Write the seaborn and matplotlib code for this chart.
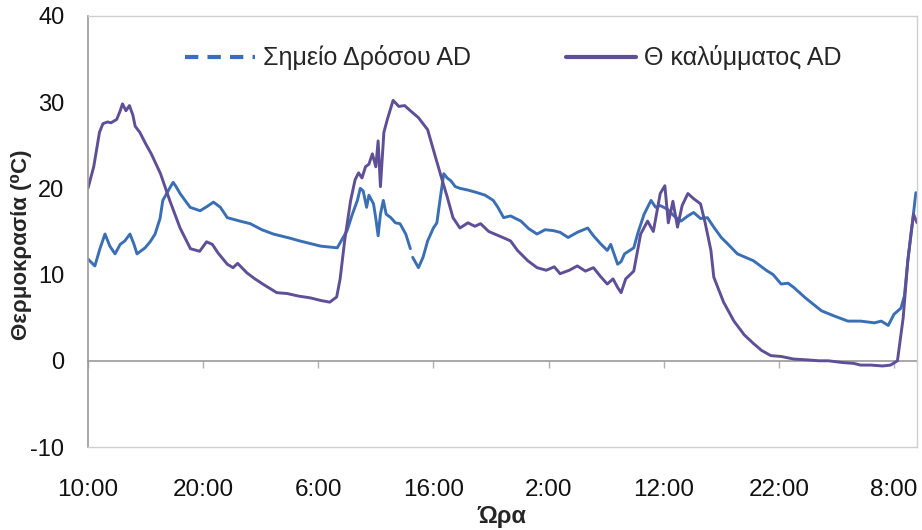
import numpy as np
import pandas as pd
import seaborn as sns
import matplotlib
matplotlib.use("Agg")
import matplotlib.pyplot as plt
from matplotlib.lines import Line2D

# ---------------- data ----------------
tick_labels = ["10:00", "20:00", "6:00", "16:00", "2:00", "12:00", "22:00", "8:00"]
tick_hours = [0, 10, 20, 30, 40, 50, 60, 70]

cover_hours = [0, 0.5, 1.0, 1.3, 1.7, 2.0, 2.5, 2.8, 3.0, 3.3, 3.6, 3.9, 4.1, 4.5, 5.0, 5.5,
               6.3, 7.1, 8.0, 8.9, 9.7, 10.3, 10.8, 11.3, 12.1, 12.6, 13.0, 13.8, 14.5, 15.3,
               16.4, 17.3, 18.3, 19.3, 20.2, 21.0, 21.6, 21.9, 22.3, 22.8, 23.2, 23.5, 23.8,
               24.1, 24.4, 24.7, 25.0, 25.2, 25.4, 25.7, 26.0, 26.5, 27.0, 27.5, 28.0, 28.7,
               29.5, 30.1, 30.6, 31.2, 31.7, 32.3, 33.0, 33.6, 34.1, 34.8, 35.5, 36.2, 36.7,
               37.3, 38.2, 39.0, 39.8, 40.5, 41.0, 41.8, 42.5, 43.2, 43.9, 44.5, 45.1, 45.6,
               46.0, 46.3, 46.7, 47.4, 48.0, 48.6, 49.1, 49.7, 50.1, 50.4, 50.8, 51.2, 51.6,
               52.1, 52.6, 53.2, 53.6, 54.1, 54.35, 55.2, 56.1, 57.0, 57.8, 58.5, 59.3, 60.2,
               61.3, 62.5, 63.5, 64.3, 65.5, 66.5, 67.1, 68.0, 69.0, 69.7, 70.3, 70.8, 71.2,
               71.5, 71.7, 72.0]
cover_temp = [20.0, 22.5, 26.5, 27.5, 27.7, 27.6, 28.0, 29.0, 29.8, 29.0, 29.6, 28.5, 27.2, 26.5,
              25.2, 24.0, 21.7, 18.6, 15.4, 13.0, 12.7, 13.8, 13.5, 12.5, 11.2, 10.8, 11.3, 10.2,
              9.5, 8.8, 7.9, 7.8, 7.5, 7.3, 7.0, 6.8, 7.4, 9.5, 14.0, 18.5, 21.0, 21.8, 21.2,
              22.5, 22.8, 24.0, 22.5, 25.5, 20.2, 26.5, 28.0, 30.2, 29.5, 29.6, 29.0, 28.2,
              26.8, 24.0, 21.7, 19.0, 16.6, 15.4, 16.0, 15.6, 15.9, 15.0, 14.6, 14.2, 13.9,
              12.8, 11.6, 10.8, 10.5, 10.9, 10.1, 10.5, 11.0, 10.4, 10.8, 9.8, 8.9, 9.5,
              8.5, 7.9, 9.5, 10.4, 14.7, 16.2, 15.0, 19.4, 20.3, 16.0, 18.5, 15.5, 18.0,
              19.4, 18.8, 18.2, 16.0, 12.8, 9.7, 6.8, 4.6, 3.0, 2.0, 1.2, 0.6, 0.5,
              0.2, 0.1, 0.0, 0.0, -0.2, -0.3, -0.5, -0.5, -0.6, -0.5, 0.0, 5.0, 11.6,
              15.0, 17.0, 16.0]

dew_hours = [0, 0.6, 1.04, 1.48, 1.9, 2.35, 2.8, 3.2, 3.65, 4.0, 4.26, 4.96, 5.4, 5.83, 6.26,
             6.5, 7.13, 7.4, 7.65, 8.0, 8.87, 9.74, 10.35, 10.9, 11.5, 12.1, 13.2, 14.1, 15.1,
             16.1, 17.6, 18.4, 20.2, 21.65, 22.5, 22.96, 23.4, 23.65, 23.9, 24.2, 24.4, 24.8,
             25.0, 25.2, 25.4, 25.65, 25.9, 26.3, 26.7, 27.1, 27.6, 28.0,
             28.2, 28.7, 29.1, 29.5, 30.0, 30.3, 30.6, 30.9, 31.2, 31.5, 31.9, 32.3, 33.0,
             33.8, 34.5, 35.2, 35.6, 36.1, 36.7, 37.6, 38.3, 39.0, 39.7, 40.4, 41.0, 41.7,
             42.5, 43.4, 43.9, 44.5, 45.1, 45.4, 46.0, 46.3, 46.6, 47.4, 47.8, 48.3, 48.9,
             49.3, 49.7, 50.3, 50.9, 51.5, 52.1, 52.6, 53.2, 53.8, 54.35, 55.0, 55.6, 56.4,
             57.1, 57.8, 58.9, 59.5, 60.2, 60.8, 61.3, 62.3, 63.7, 64.8, 66.0, 67.1, 68.3,
             68.9, 69.5, 70.0, 70.6, 70.9, 71.2, 71.6, 71.9]
dew_temp = [11.8, 11.0, 13.0, 14.7, 13.3, 12.4, 13.5, 13.9, 14.7, 13.5, 12.4, 13.1, 13.8, 14.7,
            16.5, 18.6, 20.1, 20.7, 20.2, 19.4, 17.8, 17.4, 17.9, 18.4, 17.8, 16.6, 16.2, 15.9,
            15.2, 14.7, 14.2, 13.9, 13.3, 13.1, 15.1, 17.0, 18.6, 20.0, 19.7, 17.8, 19.2, 18.2,
            16.5, 14.5, 17.0, 18.6, 17.0, 16.6, 16.0, 15.9, 14.7, 13.0,
            12.0, 10.8, 12.0, 13.9, 15.4, 16.0, 18.9, 21.7, 21.2, 20.9, 20.2, 20.0, 19.8,
            19.5, 19.2, 18.6, 17.8, 16.6, 16.8, 16.2, 15.3, 14.7, 15.2, 15.1, 14.9, 14.3,
            14.9, 15.4, 14.5, 13.6, 12.8, 13.5, 11.2, 11.5, 12.4, 13.1, 15.0, 17.0, 18.6,
            17.8, 18.0, 17.6, 16.8, 16.2, 16.8, 17.2, 16.5, 16.6, 15.5, 14.3, 13.5, 12.4,
            12.0, 11.6, 10.5, 10.0, 8.9, 9.0, 8.5, 7.3, 5.8, 5.2, 4.6, 4.6, 4.4,
            4.6, 4.1, 5.4, 6.1, 7.5, 11.6, 16.0, 19.5]
dew_segment = [0] * 52 + [1] * (len(dew_hours) - 52)

series_names = ["Σημείο Δρόσου AD", "Θ καλύμματος AD"]

dew_df = pd.DataFrame({"hour": dew_hours, "temp": dew_temp, "seg": dew_segment})
cov_df = pd.DataFrame({"hour": cover_hours, "temp": cover_temp})

# ---------------- style ----------------
sns.set_style("white")
plt.rcParams["font.family"] = ["Liberation Sans", "DejaVu Sans"]

blue = "#3a6fb5"
purple = "#5e4f96"

fig = plt.figure(figsize=(9.22, 5.30), dpi=100)
ax = fig.add_axes([0.0954, 0.1566, 0.8992, 0.8134])

sns.lineplot(data=dew_df, x="hour", y="temp", units="seg", estimator=None,
             color=blue, linewidth=2.1, ax=ax, legend=False)
sns.lineplot(data=cov_df, x="hour", y="temp", color=purple, linewidth=2.1,
             ax=ax, legend=False)

ax.set_xlim(0, 72)
ax.set_ylim(-10, 40)
ax.set_yticks([-10, 0, 10, 20, 30, 40])
ax.set_yticklabels(["-10", "0", "10", "20", "30", "40"], fontsize=17, color="#111111")
ax.tick_params(axis="y", direction="out", length=5, width=1, color="#9a9a9a", pad=12)

ax.set_xticks(tick_hours)
ax.set_xticklabels(tick_labels, fontsize=17.5, color="#111111")
ax.tick_params(axis="x", length=0, pad=23)

for side in ["top", "right", "bottom"]:
    ax.spines[side].set_color("#d0d0d0")
    ax.spines[side].set_linewidth(1.0)
ax.spines["left"].set_color("#9a9a9a")
ax.spines["left"].set_linewidth(1.2)

# x-axis line at zero with its tick marks
sec = ax.secondary_xaxis(0.2)
sec.set_xticks(tick_hours)
sec.set_xticklabels([])
sec.tick_params(axis="x", direction="out", length=5, width=1, color="#b0b0b0")
sec.spines["bottom"].set_color("#9a9a9a")
sec.spines["bottom"].set_linewidth(1.2)

ax.set_xlabel("Ώρα", fontsize=17, fontweight="bold", labelpad=3)
ax.set_ylabel("Θερμοκρασία (⁰C)", fontsize=16, fontweight="bold")
ax.yaxis.set_label_coords(-0.067, 0.47)

handles = [Line2D([], [], color=blue, linestyle=(0, (3.2, 2.2)), linewidth=3),
           Line2D([], [], color=purple, linestyle="-", linewidth=3)]
leg = ax.legend(handles, series_names, loc="center", bbox_to_anchor=(0.513, 0.9026),
                ncol=2, frameon=False, fontsize=18, handlelength=2.8,
                handletextpad=0.32, columnspacing=3.8)

fig.savefig("out.png", dpi=100)
